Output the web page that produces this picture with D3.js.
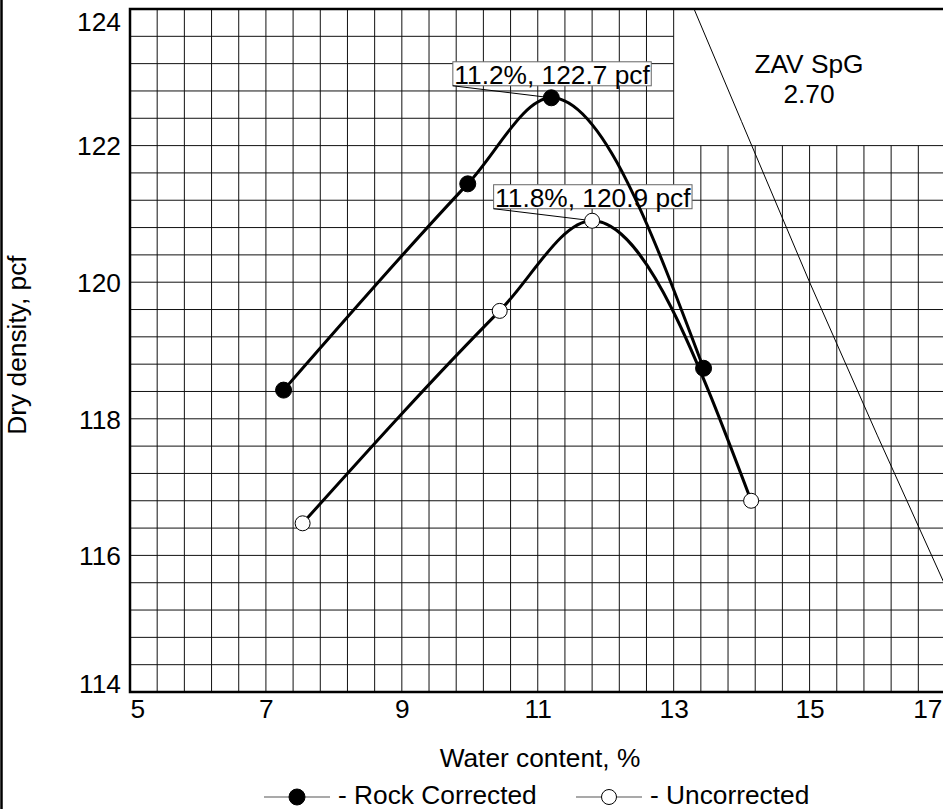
<!DOCTYPE html>
<html>
<head>
<meta charset="utf-8">
<script src="https://cdn.jsdelivr.net/npm/d3@7"></script>
<style>
  body { margin: 0; background: #fff; }
  svg { display: block; font-family: Arial, "Liberation Sans", sans-serif; }
</style>
</head>
<body>
<svg id="chart" width="943" height="809"></svg>
<script>
// data
const rockWater = [7.26, 9.97, 11.2, 13.44]
const rockDensity = [118.42, 121.44, 122.7, 118.74]
const uncWater = [7.54, 10.44, 11.8, 14.14]
const uncDensity = [116.47, 119.58, 120.9, 116.8]
const zavWater = [13.3, 14, 15, 16, 17]
const zavDensity = [124.0, 122.35, 120.0, 117.75, 115.55]
const peakLabels = ['11.2%, 122.7 pcf', '11.8%, 120.9 pcf']
const xTicks = [5, 7, 9, 11, 13, 15, 17]
const yTicks = [114, 116, 118, 120, 122, 124]
const zavText = ['ZAV SpG', '2.70']

const width = 943
const height = 809
const margin = { top: 9, right: -2.5, bottom: 117, left: 130 }
const fontSize = 26.3

const svg = d3.select('#chart')

const x = d3.scaleLinear().domain([5, 17]).range([margin.left, width - margin.right])
const y = d3.scaleLinear().domain([114, 124]).range([height - margin.bottom, margin.top])

// page frame line on the left
svg.append('line')
  .attr('x1', 1.5).attr('x2', 1.5)
  .attr('y1', 0).attr('y2', height)
  .attr('stroke', '#000').attr('stroke-width', 2.5)

// grid, every 0.4 units; blank area above 122 and right of 13
const gx = d3.range(0, 31).map((i) => 5 + i * 0.4)
const gy = d3.range(0, 26).map((i) => 114 + i * 0.4)
const grid = svg.append('g').attr('stroke', '#111').attr('stroke-width', 1)
gx.forEach((v) => {
  grid.append('line')
    .attr('x1', x(v)).attr('x2', x(v))
    .attr('y1', y(114)).attr('y2', y(v > 13.01 ? 122 : 124))
})
gy.forEach((v) => {
  grid.append('line')
    .attr('y1', y(v)).attr('y2', y(v))
    .attr('x1', x(5)).attr('x2', x(v > 122.01 ? 13 : 17))
})

// plot borders
svg.append('path')
  .attr('d', `M${x(17)},${y(124)}H${x(5)}V${y(114)}H${x(17)}`)
  .attr('fill', 'none').attr('stroke', '#000').attr('stroke-width', 2.5)

// axes labels
const xAxis = svg.append('g')
  .attr('transform', `translate(0,${y(114)})`)
  .call(d3.axisBottom(x).tickValues(xTicks).tickSize(0).tickPadding(7.5).tickFormat(d3.format('d')))
xAxis.select('.domain').remove()
xAxis.selectAll('text')
  .attr('font-size', fontSize).attr('font-family', 'Arial, "Liberation Sans", sans-serif').attr('fill', '#000')
xAxis.selectAll('text').filter((d) => d === 5).attr('text-anchor', 'start')
xAxis.selectAll('text').filter((d) => d === 17).attr('text-anchor', 'end').attr('x', width - 1 - x(17))

const yAxis = svg.append('g')
  .attr('transform', `translate(${x(5)},0)`)
  .call(d3.axisLeft(y).tickValues(yTicks).tickSize(0).tickPadding(9).tickFormat(d3.format('d')))
yAxis.select('.domain').remove()
yAxis.selectAll('text')
  .attr('font-size', fontSize).attr('font-family', 'Arial, "Liberation Sans", sans-serif').attr('fill', '#000')
  .attr('dy', (d) => (d === 124 ? '0.83em' : d === 114 ? '0em' : '0.35em'))

svg.append('text')
  .attr('x', 540).attr('y', 767)
  .attr('text-anchor', 'middle').attr('font-size', fontSize)
  .text('Water content, %')

svg.append('text')
  .attr('transform', `translate(26,345) rotate(-90)`)
  .attr('text-anchor', 'middle').attr('font-size', fontSize)
  .text('Dry density, pcf')

// zero air voids line
const clipId = 'plot-clip'
svg.append('defs').append('clipPath').attr('id', clipId)
  .append('rect')
  .attr('x', x(5)).attr('y', y(124))
  .attr('width', x(17) - x(5)).attr('height', y(114) - y(124))

const zavLine = d3.line().x((d, i) => x(zavWater[i])).y((d) => y(d))
svg.append('path')
  .attr('clip-path', `url(#${clipId})`)
  .attr('d', zavLine(zavDensity))
  .attr('fill', 'none').attr('stroke', '#000').attr('stroke-width', 1)

svg.append('g').selectAll('text').data(zavText).join('text')
  .attr('x', 809).attr('y', (d, i) => 72.5 + i * 30.6)
  .attr('text-anchor', 'middle').attr('font-size', fontSize)
  .text((d) => d)

// peak labels
const peaks = [
  { px: x(rockWater[2]), py: y(rockDensity[2]), label: peakLabels[0] },
  { px: x(uncWater[2]), py: y(uncDensity[2]), label: peakLabels[1] },
]
peaks.forEach((p) => {
  const g = svg.append('g')
  const bx = p.px - 98.5
  const by = p.py - 36
  const rect = g.append('rect')
  const t = g.append('text')
    .attr('x', bx + 1.5).attr('y', by + 22)
    .attr('font-size', fontSize)
    .text(p.label)
  const w = t.node().getComputedTextLength()
  rect.attr('x', bx).attr('y', by)
    .attr('width', w + 3).attr('height', 24)
    .attr('fill', '#fff').attr('stroke', '#666').attr('stroke-width', 1)
  g.append('line')
    .attr('x1', bx).attr('y1', by + 24)
    .attr('x2', p.px).attr('y2', p.py)
    .attr('stroke', '#000').attr('stroke-width', 1)
})

// compaction curves
const series = [
  { water: rockWater, density: rockDensity, fill: '#000' },
  { water: uncWater, density: uncDensity, fill: '#fff' },
]
series.forEach((s) => {
  const line = d3.line()
    .x((d, i) => x(s.water[i]))
    .y((d) => y(d))
    .curve(d3.curveMonotoneX)
  svg.append('path')
    .attr('d', line(s.density))
    .attr('fill', 'none').attr('stroke', '#000').attr('stroke-width', 3)
})
series.forEach((s) => {
  svg.append('g').selectAll('circle').data(s.density).join('circle')
    .attr('cx', (d, i) => x(s.water[i]))
    .attr('cy', (d) => y(d))
    .attr('r', s.fill === '#000' ? 8 : 7.5)
    .attr('fill', s.fill)
    .attr('stroke', '#000').attr('stroke-width', 1)
})

// legend
const legendY = 797
const legendItems = [
  { x0: 264, fill: '#000', r: 8, label: '- Rock Corrected' },
  { x0: 576, fill: '#fff', r: 7.5, label: '- Uncorrected' },
]
legendItems.forEach((d) => {
  const g = svg.append('g')
  g.append('line')
    .attr('x1', d.x0).attr('x2', d.x0 + 66)
    .attr('y1', legendY).attr('y2', legendY)
    .attr('stroke', '#555').attr('stroke-width', 1.2)
  g.append('circle')
    .attr('cx', d.x0 + 33).attr('cy', legendY).attr('r', d.r)
    .attr('fill', d.fill).attr('stroke', '#000').attr('stroke-width', 1)
  g.append('text')
    .attr('x', d.x0 + 74).attr('y', legendY + 6.5)
    .attr('font-size', fontSize)
    .text(d.label)
})
</script>
</body>
</html>
